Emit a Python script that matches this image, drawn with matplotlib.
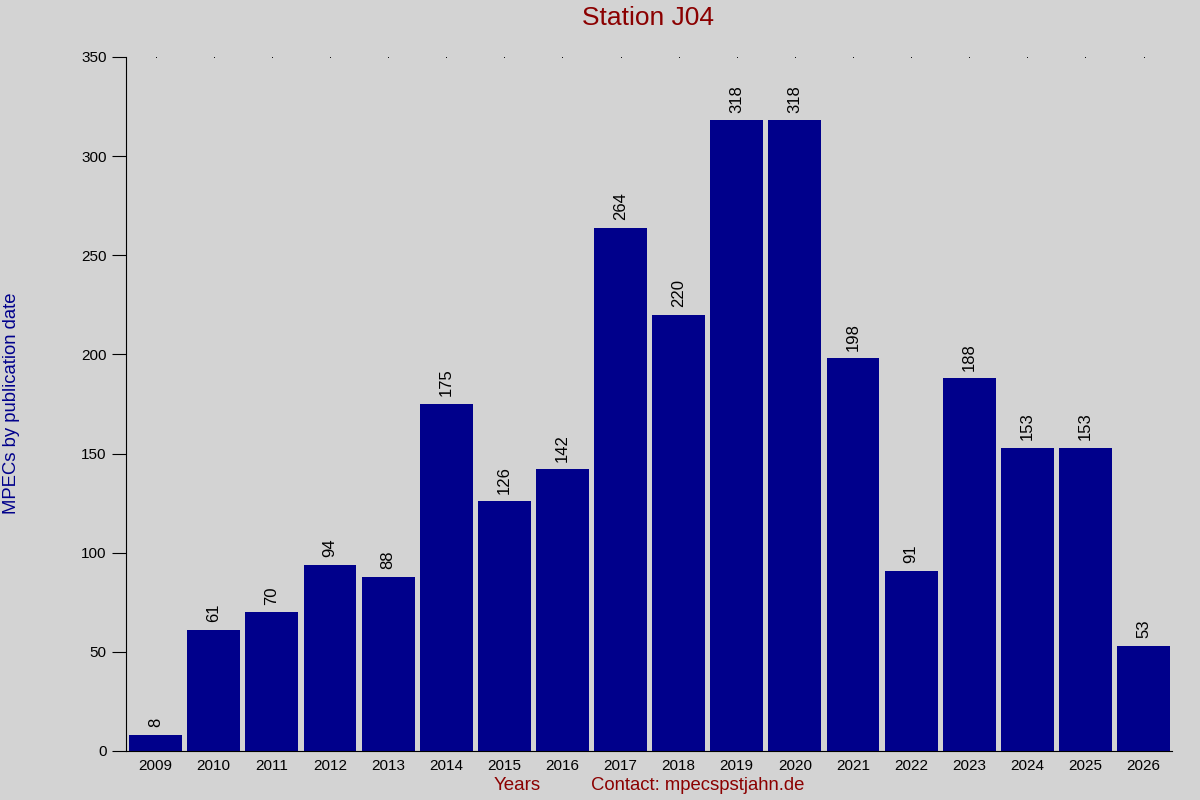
import matplotlib.pyplot as plt

plt.rcParams['font.family'] = ['Liberation Sans', 'DejaVu Sans']

years = ['2009', '2010', '2011', '2012', '2013', '2014', '2015', '2016', '2017',
         '2018', '2019', '2020', '2021', '2022', '2023', '2024', '2025', '2026']
mpecs = [8, 61, 70, 94, 88, 175, 126, 142, 264, 220, 318, 318, 198, 91, 188, 153, 153, 53]

bg = '#D3D3D3'
fig = plt.figure(figsize=(12, 8), dpi=100, facecolor=bg)
ax = fig.add_axes([126 / 1200, 49 / 800, (1172 - 126) / 1200, (751 - 57) / 800])
ax.set_facecolor(bg)

x = range(len(years))
bars = ax.bar(x, mpecs, width=0.91, color='#00008B')

for b, v in zip(bars, mpecs):
    ax.annotate(str(v), (b.get_x() + b.get_width() / 2, v), xytext=(0, 5.5),
                textcoords='offset points', rotation=90, ha='center', va='bottom',
                fontsize=12, color='black')

# small dots along the top at each year
ax.plot(list(x), [350] * len(years), ls='none', marker='s', ms=0.6, mew=0,
        color='black', clip_on=False)

ax.set_xlim(-0.51, len(years) - 0.51)
ax.set_ylim(0, 350)
ax.set_yticks(range(0, 351, 50))
ax.set_xticks(list(x))
ax.set_xticklabels(years)
ax.tick_params(axis='x', length=0, labelsize=11, pad=6)
ax.tick_params(axis='y', length=10, labelsize=11, pad=4)
ax.spines['top'].set_visible(False)
ax.spines['right'].set_visible(False)

fig.text(648 / 1200, 1 - 18 / 800, 'Station J04', ha='center', va='center', fontsize=19, color='#8B0000')
fig.text(517 / 1200, 1 - 786 / 800, 'Years', ha='center', va='center', fontsize=13.5, color='#8B0000')
fig.text(698 / 1200, 1 - 786 / 800, 'Contact: mpecspstjahn.de', ha='center', va='center',
         fontsize=13.3, color='#8B0000')
fig.text(12 / 1200, 1 - 403 / 800, 'MPECs by publication date', rotation=90, ha='center',
         va='center', fontsize=13.3, color='#00008B')

fig.savefig('out.png', dpi=100, facecolor=bg)
